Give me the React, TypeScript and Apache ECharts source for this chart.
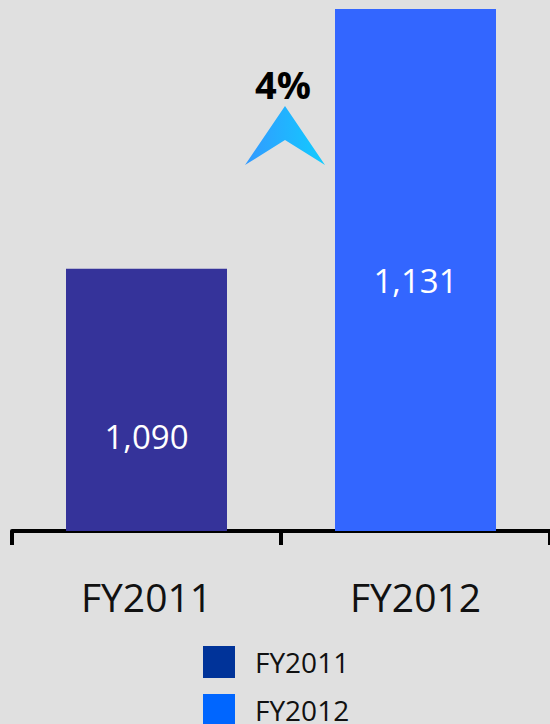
import React, { useEffect, useRef } from "react";
import * as echarts from "echarts";

const categories = ["FY2011", "FY2012"];
const seriesNames = ["FY2011", "FY2012"];
const values2011 = [1090, "-"];
const values2012 = ["-", 1131];
const growthLabel = "4%";

const FONT = "'Open Sans', 'DejaVu Sans', sans-serif";

export default function App() {
  const ref = useRef<HTMLDivElement>(null);
  useEffect(() => {
    if (!ref.current) return;
    const chart = echarts.init(ref.current, undefined, { renderer: "svg" });
    const labelBase = {
      show: true,
      color: "#ffffff",
      fontSize: 33,
      fontFamily: FONT,
      align: "center",
      verticalAlign: "middle",
      formatter: (p: any) => Number(p.value).toLocaleString("en-US"),
    };
    chart.setOption({
      animation: false,
      backgroundColor: "#e0e0e0",
      grid: { left: 12, right: 0, top: 9, bottom: 193, containLabel: false },
      xAxis: {
        type: "category",
        data: categories,
        axisLine: { show: true, lineStyle: { color: "#000", width: 4 } },
        axisTick: { show: true, length: 14, lineStyle: { color: "#000", width: 4 } },
        axisLabel: {
          color: "#111",
          fontSize: 39,
          fontFamily: FONT,
          margin: 46,
        },
      },
      yAxis: {
        type: "value",
        min: 1048.6,
        max: 1131,
        show: false,
        splitLine: { show: false },
      },
      legend: {
        orient: "vertical",
        left: 203,
        top: 646,
        height: 200,
        padding: 0,
        itemWidth: 32,
        itemHeight: 32,
        itemGap: 16,
        icon: "rect",
        textStyle: {
          color: "#111",
          fontSize: 28,
          fontFamily: FONT,
          padding: [0, 0, 0, 15],
        },
        data: [
          { name: seriesNames[0], itemStyle: { color: "#003399" } },
          { name: seriesNames[1], itemStyle: { color: "#0066ff" } },
        ],
      },
      series: [
        {
          name: seriesNames[0],
          type: "bar",
          data: values2011,
          barWidth: 161,
          barGap: "-100%",
          itemStyle: { color: "#35339a" },
          label: { ...labelBase, position: ["50%", "64%"] },
        },
        {
          name: seriesNames[1],
          type: "bar",
          data: values2012,
          barWidth: 161,
          barGap: "-100%",
          itemStyle: { color: "#3366ff" },
          label: { ...labelBase, position: ["50%", "52%"] },
        },
      ],
      graphic: [
        {
          type: "polygon",
          shape: {
            points: [
              [285, 106],
              [325, 165],
              [285, 140],
              [245, 165],
            ],
          },
          style: {
            fill: new echarts.graphic.LinearGradient(0, 0, 1, 0, [
              { offset: 0, color: "#3399ff" },
              { offset: 1, color: "#11ccff" },
            ]),
          },
        },
        {
          type: "text",
          x: 283,
          y: 84,
          style: {
            text: growthLabel,
            fill: "#000",
            fontSize: 38,
            fontWeight: "bold",
            fontFamily: FONT,
            align: "center",
            verticalAlign: "middle",
          },
        },
      ],
    });
    return () => chart.dispose();
  }, []);
  return (
    <div
      ref={ref}
      style={{ position: "fixed", left: 0, top: 0, width: 550, height: 724 }}
    />
  );
}
